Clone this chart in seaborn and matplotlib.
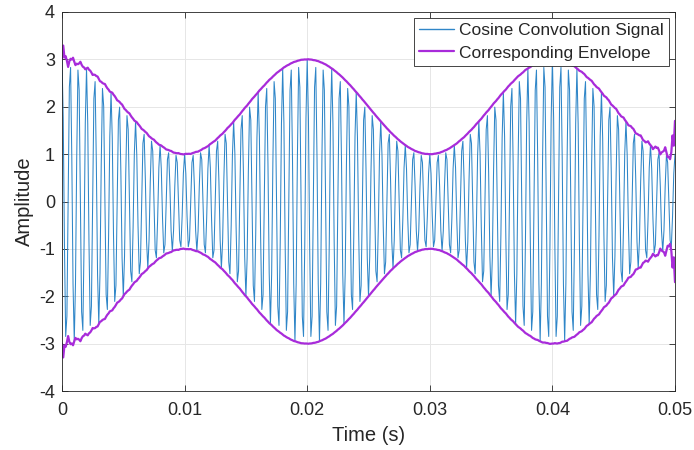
import numpy as np
import pandas as pd
import matplotlib
matplotlib.use("Agg")
import matplotlib.pyplot as plt
from matplotlib.lines import Line2D
import seaborn as sns

# signal parameters
fs = 10000.0          # sampling rate (Hz)
duration = 0.05       # s
carrier_freq = 1500.0 # Hz
mod_freq = 50.0       # Hz
mod_offset = 2.0
mod_depth = 1.0

series_labels = ["Cosine Convolution Signal", "Corresponding Envelope"]
x_ticks = [0, 0.01, 0.02, 0.03, 0.04, 0.05]
x_tick_labels = ["0", "0.01", "0.02", "0.03", "0.04", "0.05"]
y_ticks = [-4, -3, -2, -1, 0, 1, 2, 3, 4]
y_tick_labels = ["-4", "-3", "-2", "-1", "0", "1", "2", "3", "4"]

t = np.arange(0, duration + 0.5 / fs, 1 / fs)
sig = (mod_offset + mod_depth * np.cos(2 * np.pi * mod_freq * t)) * np.cos(2 * np.pi * carrier_freq * t)

def hilbert_env(x):
    n = len(x)
    X = np.fft.fft(x)
    h = np.zeros(n)
    if n % 2 == 0:
        h[0] = h[n // 2] = 1
        h[1:n // 2] = 2
    else:
        h[0] = 1
        h[1:(n + 1) // 2] = 2
    return np.abs(np.fft.ifft(X * h))

env = hilbert_env(sig)

df_sig = pd.DataFrame({"t": t, "y": sig})
df_up = pd.DataFrame({"t": t, "y": env})
df_lo = pd.DataFrame({"t": t, "y": -env})

sns.set_theme(style="white")
plt.rcParams['font.family'] = ['Liberation Sans', 'DejaVu Sans']

fig = plt.figure(figsize=(6.94, 4.5), dpi=100)
ax = fig.add_axes([62 / 694, 59 / 450, 613 / 694, 379 / 450])

blue = "#2F86C8"
purple = "#A82BDA"
sns.lineplot(data=df_sig, x="t", y="y", ax=ax, color=blue, linewidth=0.75,
             legend=False, estimator=None, sort=False)
sns.lineplot(data=df_up, x="t", y="y", ax=ax, color=purple, linewidth=1.6,
             legend=False, estimator=None, sort=False)
sns.lineplot(data=df_lo, x="t", y="y", ax=ax, color=purple, linewidth=1.6,
             legend=False, estimator=None, sort=False)

ax.set_xlim(0, 0.05)
ax.set_ylim(-4, 4)
ax.set_xticks(x_ticks)
ax.set_xticklabels(x_tick_labels)
ax.set_yticks(y_ticks)
ax.set_yticklabels(y_tick_labels)
ax.grid(True, color="#e6e6e6", linewidth=0.7)
ax.set_axisbelow(True)
for s in ax.spines.values():
    s.set_visible(True)
    s.set_color("#262626")
    s.set_linewidth(0.6)
ax.tick_params(direction="in", length=4, width=0.6, colors="#262626",
               labelsize=13, top=True, right=True, bottom=True, left=True,
               labelcolor="#262626", pad=5)
ax.tick_params(axis="x", pad=8)
ax.set_xlabel("Time (s)", fontsize=14.5, color="#262626", labelpad=5)
ax.set_ylabel("Amplitude", fontsize=14.5, color="#262626", labelpad=4)

handles = [Line2D([], [], color=blue, linewidth=1.0),
           Line2D([], [], color=purple, linewidth=1.6)]
leg = ax.legend(handles, series_labels, loc="upper right", fontsize=12.5,
                frameon=True, fancybox=False, edgecolor="#262626", framealpha=1,
                borderpad=0.3, handlelength=2.0, handletextpad=0.3,
                labelspacing=0.4, borderaxespad=0.35)
leg.get_frame().set_linewidth(0.6)
for txt in leg.get_texts():
    txt.set_color("#262626")

fig.savefig("out.png", dpi=100)
